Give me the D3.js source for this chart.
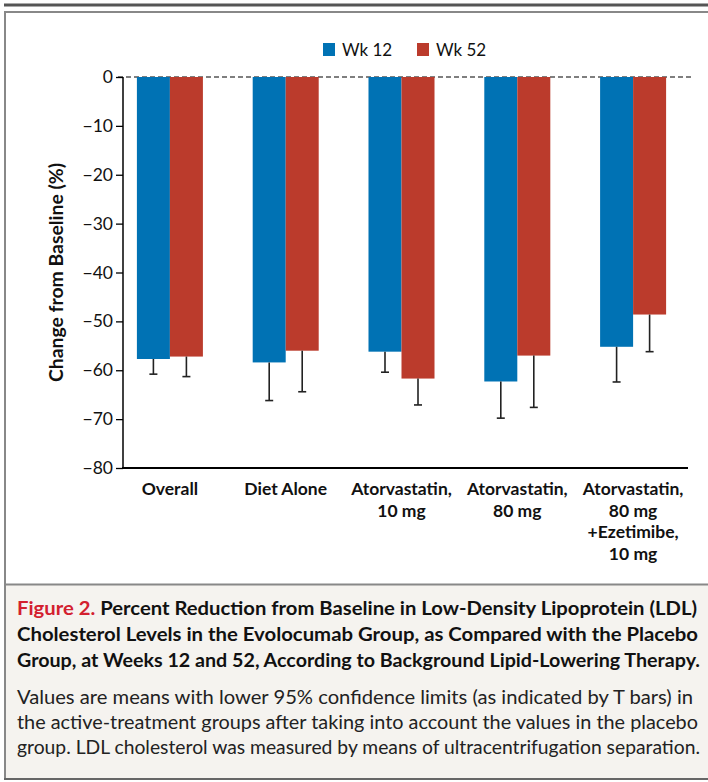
<!DOCTYPE html>
<html>
<head>
<meta charset="utf-8">
<script src="https://cdn.jsdelivr.net/npm/d3@7"></script>
<style>
  body { margin: 0; background: #fff; }
  svg { display: block; font-family: Lato, "Open Sans", sans-serif; }
</style>
</head>
<body>
<div id="chart"></div>
<script>
// values
const categories = ['Overall', 'Diet Alone', 'Atorvastatin, 10 mg', 'Atorvastatin, 80 mg', 'Atorvastatin, 80 mg +Ezetimibe, 10 mg'];
const categoryLines = [['Overall'], ['Diet Alone'], ['Atorvastatin,', '10 mg'], ['Atorvastatin,', '80 mg'], ['Atorvastatin,', '80 mg', '+Ezetimibe,', '10 mg']];
const series = ['Wk 12', 'Wk 52'];
const wk12 = [-57.7, -58.4, -56.2, -62.3, -55.2];
const wk12Lower = [-60.8, -66.2, -60.4, -69.8, -62.4];
const wk52 = [-57.2, -56.0, -61.7, -57.0, -48.6];
const wk52Lower = [-61.3, -64.4, -67.1, -67.6, -56.2];
const yTicks = [0, -10, -20, -30, -40, -50, -60, -70, -80];

const captionTitle = [
  ['Figure 2. ', 'Percent Reduction from Baseline in Low-Density Lipoprotein (LDL)'],
  ['', 'Cholesterol Levels in the Evolocumab Group, as Compared with the Placebo'],
  ['', 'Group, at Weeks 12 and 52, According to Background Lipid-Lowering Therapy.']
];
const captionBody = [
  'Values are means with lower 95% confidence limits (as indicated by T bars) in',
  'the active-treatment groups after taking into account the values in the placebo',
  'group. LDL cholesterol was measured by means of ultracentrifugation separation.'
];

const colors = { 'Wk 12': '#0072b4', 'Wk 52': '#bb3b2c' };

// build rows for the bars
const rows = categories.map((c, i) => ({
  category: c,
  bars: [
    { series: 'Wk 12', value: wk12[i], lower: wk12Lower[i] },
    { series: 'Wk 52', value: wk52[i], lower: wk52Lower[i] }
  ]
}));

const width = 708;
const height = 782;

const svg = d3.select('#chart')
  .append('svg')
  .attr('width', width)
  .attr('height', height);

// frame
svg.append('rect').attr('x', 4).attr('y', 3.5).attr('width', 704).attr('height', 3).attr('fill', '#555');
svg.append('rect').attr('x', 5).attr('y', 12).attr('width', 710).attr('height', 767)
  .attr('fill', 'none').attr('stroke', '#888').attr('stroke-width', 2);
svg.append('rect').attr('x', 6).attr('y', 585).attr('width', 702).attr('height', 193).attr('fill', '#f5f3ef');
svg.append('line').attr('x1', 5).attr('x2', 708).attr('y1', 584.5).attr('y2', 584.5)
  .attr('stroke', '#888').attr('stroke-width', 2);
svg.append('line').attr('x1', 4).attr('x2', 708).attr('y1', 779).attr('y2', 779)
  .attr('stroke', '#666').attr('stroke-width', 2);

// scales
const yScale = d3.scaleLinear().domain([-80, 0]).range([468, 77]);

const xScale = d3.scaleBand()
  .domain(categories)
  .range([112, 691])
  .paddingInner(0.43)
  .paddingOuter(0.215);

const xSub = d3.scaleBand()
  .domain(series)
  .range([0, xScale.bandwidth()]);

// zero line, dashed
svg.append('line')
  .attr('x1', 118).attr('x2', 693)
  .attr('y1', yScale(0)).attr('y2', yScale(0))
  .attr('stroke', '#000').attr('stroke-width', 1.2)
  .attr('stroke-dasharray', '5,3');

// bars
const groups = svg.append('g').attr('class', 'bars')
  .selectAll('g')
  .data(rows)
  .join('g')
  .attr('transform', (d) => `translate(${xScale(d.category)},0)`);

groups.selectAll('rect')
  .data((d) => d.bars)
  .join('rect')
  .attr('x', (d) => xSub(d.series))
  .attr('y', yScale(0))
  .attr('width', xSub.bandwidth())
  .attr('height', (d) => yScale(d.value) - yScale(0))
  .attr('fill', (d) => colors[d.series]);

// T bars (lower 95% CI only)
const errs = groups.selectAll('g.err')
  .data((d) => d.bars)
  .join('g')
  .attr('class', 'err')
  .attr('transform', (d) => `translate(${xSub(d.series) + xSub.bandwidth() / 2},0)`);

errs.append('line')
  .attr('y1', (d) => yScale(d.value))
  .attr('y2', (d) => yScale(d.lower))
  .attr('stroke', '#222').attr('stroke-width', 1.6);

errs.append('line')
  .attr('x1', -4).attr('x2', 4)
  .attr('y1', (d) => yScale(d.lower))
  .attr('y2', (d) => yScale(d.lower))
  .attr('stroke', '#222').attr('stroke-width', 1.6);

// y axis
const yAxis = d3.axisLeft(yScale)
  .tickValues(yTicks)
  .tickSize(7)
  .tickPadding(3)
  .tickFormat((d) => (d < 0 ? '\u2212' + Math.abs(d) : String(d)));

const yG = svg.append('g')
  .attr('transform', 'translate(123,0)')
  .call(yAxis);
yG.select('.domain').attr('stroke', '#000').attr('stroke-width', 1.5)
  .attr('d', `M0,${yScale(0)}V${yScale(-80)}`);
yG.selectAll('.tick line').attr('stroke', '#000').attr('stroke-width', 1.3);
yG.selectAll('.tick text')
  .attr('font-family', 'Lato, sans-serif')
  .attr('font-size', 17.5)
  .attr('fill', '#111');

// x axis baseline
svg.append('line')
  .attr('x1', 122).attr('x2', 688)
  .attr('y1', yScale(-80)).attr('y2', yScale(-80))
  .attr('stroke', '#000').attr('stroke-width', 2);

// x category labels
const xLabels = svg.append('g').attr('class', 'x-labels')
  .selectAll('text')
  .data(categories)
  .join('text')
  .attr('x', (d) => xScale(d) + xScale.bandwidth() / 2)
  .attr('y', 495)
  .attr('text-anchor', 'middle')
  .attr('font-size', 17.5)
  .attr('font-weight', 'bold')
  .attr('fill', '#111');

xLabels.selectAll('tspan')
  .data((d, i) => categoryLines[i])
  .join('tspan')
  .attr('x', function () { return d3.select(this.parentNode).attr('x'); })
  .attr('dy', (d, i) => (i === 0 ? 0 : 21.5))
  .text((d) => d);

// y axis title
svg.append('text')
  .attr('transform', `translate(63,${yScale(-40)}) rotate(-90)`)
  .attr('text-anchor', 'middle')
  .attr('font-size', 18.5)
  .attr('font-weight', 'bold')
  .attr('fill', '#111')
  .attr('textLength', 219)
  .attr('lengthAdjust', 'spacingAndGlyphs')
  .text('Change from Baseline (%)');

// legend
const legend = svg.append('g').attr('class', 'legend')
  .selectAll('g')
  .data(series)
  .join('g')
  .attr('transform', (d, i) => `translate(${323 + i * 94},43)`);

legend.append('rect')
  .attr('width', 12).attr('height', 13)
  .attr('fill', (d) => colors[d]);

legend.append('text')
  .attr('x', 19).attr('y', 12.5)
  .attr('font-size', 17)
  .attr('fill', '#111')
  .text((d) => d);

// caption
const cap = svg.append('g').attr('class', 'caption');

cap.selectAll('text.title')
  .data(captionTitle)
  .join('text')
  .attr('class', 'title')
  .attr('x', 17)
  .attr('y', (d, i) => 615 + i * 26)
  .attr('font-size', 19.5)
  .attr('font-weight', 'bold')
  .attr('textLength', (d, i) => [680, 681, 683][i])
  .attr('lengthAdjust', 'spacingAndGlyphs')
  .each(function (d) {
    const t = d3.select(this);
    if (d[0]) t.append('tspan').attr('fill', '#d3202f').text(d[0]);
    t.append('tspan').attr('fill', '#111').text(d[1]);
  });

cap.selectAll('text.body')
  .data(captionBody)
  .join('text')
  .attr('class', 'body')
  .attr('x', 17)
  .attr('y', (d, i) => 704 + i * 25)
  .attr('font-size', 19.5)
  .attr('fill', '#222')
  .attr('textLength', (d, i) => [676, 681, 683][i])
  .attr('lengthAdjust', 'spacingAndGlyphs')
  .text((d) => d);
</script>
</body>
</html>
